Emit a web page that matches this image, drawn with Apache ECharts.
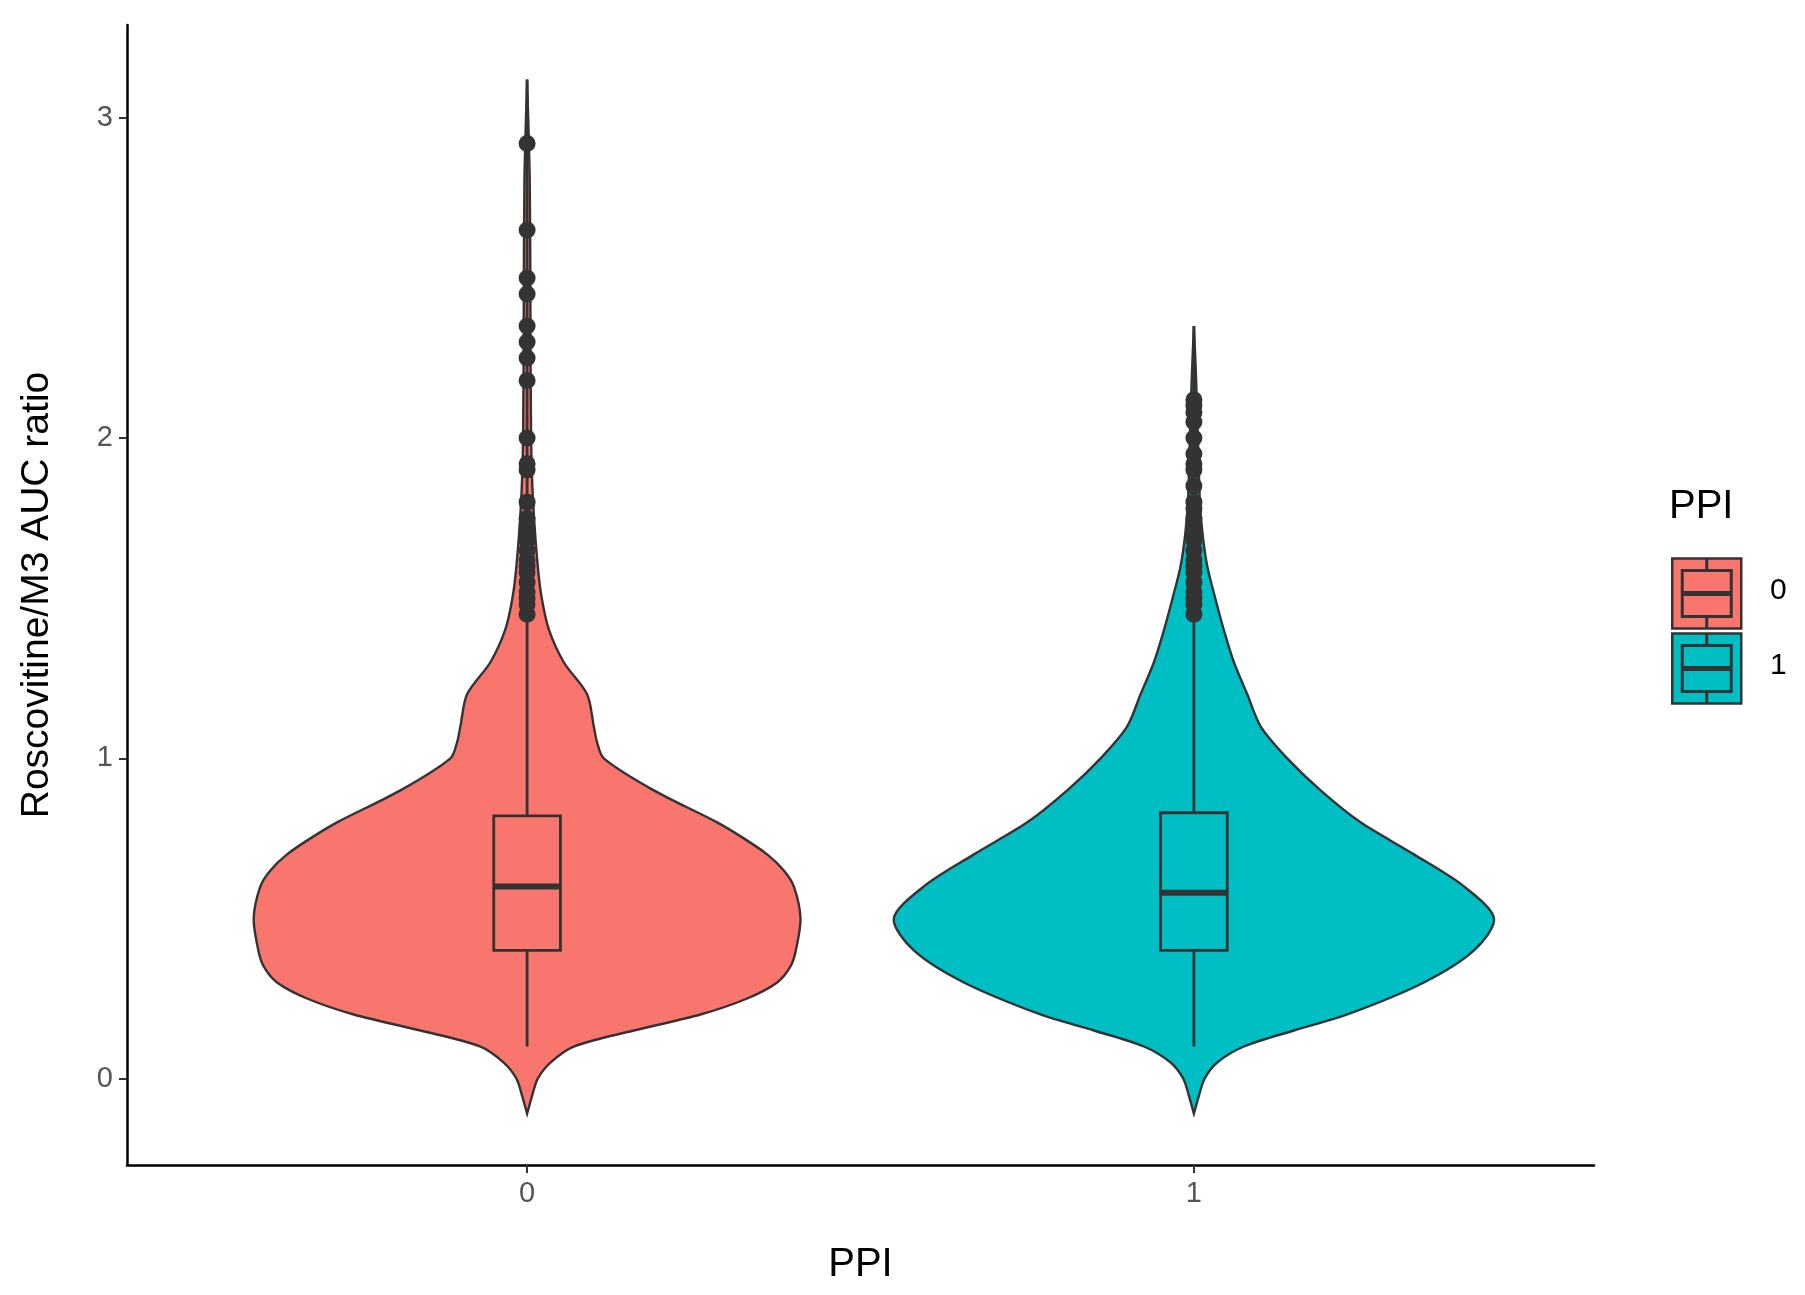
<!DOCTYPE html>
<html><head><meta charset="utf-8">
<script src="https://cdn.jsdelivr.net/npm/echarts@6/dist/echarts.min.js"></script>
<style>html,body{margin:0;background:#fff}#c{width:1805px;height:1295px}</style>
</head><body><div id="c"></div>
<script>
// violin profiles: y value, half-width in x-axis units
const violinY0 = [-0.11,-0.05,0,0.05,0.1,0.15,0.2,0.25,0.3,0.35,0.4,0.5,0.6,0.65,0.7,0.75,0.8,0.9,1.0,1.05,1.1,1.2,1.3,1.4,1.5,1.6,1.8,2.0,2.4,2.8,3.12];
const violinW0 = [0,0.008,0.016,0.035,0.07,0.16,0.26,0.33,0.375,0.395,0.403,0.41,0.4,0.385,0.36,0.325,0.285,0.19,0.115,0.105,0.1,0.09,0.055,0.033,0.022,0.016,0.009,0.006,0.005,0.004,0];
const violinY1 = [-0.11,-0.05,0,0.05,0.1,0.15,0.2,0.3,0.4,0.5,0.6,0.7,0.8,0.9,1.0,1.1,1.2,1.3,1.4,1.5,1.6,1.7,1.8,2.0,2.2,2.35];
const violinW1 = [0,0.008,0.016,0.035,0.075,0.15,0.23,0.345,0.42,0.45,0.405,0.33,0.25,0.19,0.14,0.1,0.08,0.06,0.045,0.032,0.02,0.013,0.009,0.006,0.003,0];
// box stats: [whiskerLow, q1, median, q3, whiskerHigh]
const box0 = [0.1,0.4,0.6,0.82,1.43];
const box1 = [0.1,0.4,0.58,0.83,1.45];
const outliers0 = [1.45,1.48,1.5,1.52,1.55,1.58,1.6,1.62,1.65,1.68,1.7,1.72,1.75,1.8,1.9,1.92,2.0,2.18,2.25,2.3,2.35,2.45,2.5,2.65,2.92];
const outliers1 = [1.45,1.48,1.5,1.52,1.55,1.58,1.6,1.62,1.65,1.68,1.7,1.72,1.75,1.78,1.8,1.85,1.9,1.92,1.95,2.0,2.05,2.08,2.1,2.12];
const groups = ['0','1'];
const colors = ['#F8766D','#00BFC4'];
const INK = '#333333';

const violins = [[violinY0,violinW0],[violinY1,violinW1]];
const boxes = [box0, box1];

function violinItem(params, api) {
  const g = params.dataIndex;
  const [ys, ws] = violins[g];
  const right = ys.map((y,i)=>api.coord([g+ws[i], y]));
  const left = ys.map((y,i)=>api.coord([g-ws[i], y])).reverse();
  return {type:'polygon', shape:{points:right.concat(left), smooth:0.3},
    style:{fill:colors[g], stroke:INK, lineWidth:2.4}};
}
function boxItem(params, api) {
  const g = params.dataIndex, b = boxes[g], hw = 0.05;
  const c = (x,y)=>api.coord([x,y]);
  const ls = {stroke:INK, lineWidth:2.8};
  const tl = c(g-hw,b[3]), br = c(g+hw,b[1]);
  return {type:'group', children:[
    {type:'line', shape:{x1:c(g,b[0])[0],y1:c(g,b[0])[1],x2:c(g,b[1])[0],y2:c(g,b[1])[1]}, style:ls},
    {type:'line', shape:{x1:c(g,b[3])[0],y1:c(g,b[3])[1],x2:c(g,b[4])[0],y2:c(g,b[4])[1]}, style:ls},
    {type:'rect', shape:{x:tl[0],y:tl[1],width:br[0]-tl[0],height:br[1]-tl[1]}, style:{fill:'none',stroke:INK,lineWidth:2.8}},
    {type:'line', shape:{x1:c(g-hw,b[2])[0],y1:c(g-hw,b[2])[1],x2:c(g+hw,b[2])[0],y2:c(g+hw,b[2])[1]}, style:{stroke:INK,lineWidth:6}}
  ]};
}

const pts = outliers0.map(v=>[0,v]).concat(outliers1.map(v=>[1,v]));
const axisLbl = {color:'#555', fontSize:29, fontFamily:'Liberation Sans'};

function legendKey(y, col){
  return {type:'group', left:1671, top:y, children:[
    {type:'rect', shape:{x:0,y:0,width:69,height:70}, style:{fill:colors[col],stroke:INK,lineWidth:2.5}},
    {type:'rect', shape:{x:10,y:12,width:49,height:46}, style:{fill:'none',stroke:INK,lineWidth:3}},
    {type:'line', shape:{x1:34.5,y1:0,x2:34.5,y2:12}, style:{stroke:INK,lineWidth:3}},
    {type:'line', shape:{x1:34.5,y1:58,x2:34.5,y2:70}, style:{stroke:INK,lineWidth:3}},
    {type:'line', shape:{x1:10,y1:35,x2:59,y2:35}, style:{stroke:INK,lineWidth:5}}
  ]};
}

const chart = echarts.init(document.getElementById('c'));
chart.setOption({
  animation:false,
  grid:{left:127,right:211,top:25,bottom:130},
  xAxis:{type:'value',min:-0.6,max:1.6,
    axisLine:{onZero:false,lineStyle:{color:'#000',width:2.5}},
    axisTick:{show:true,customValues:[0,1],lineStyle:{color:'#333',width:2},length:8},
    splitLine:{show:false},
    axisLabel:Object.assign({customValues:[0,1],formatter:v=>groups[v], margin:14},axisLbl),
    name:'PPI',nameLocation:'middle',nameGap:80,
    nameTextStyle:{fontSize:40,color:'#000',fontFamily:'Liberation Sans'}},
  yAxis:{type:'value',min:-0.27,max:3.29,
    axisLine:{show:true,onZero:false,lineStyle:{color:'#000',width:2.5}},
    axisTick:{show:true,customValues:[0,1,2,3],lineStyle:{color:'#333',width:2},length:8},
    axisLabel:Object.assign({customValues:[0,1,2,3],margin:14},axisLbl),
    splitLine:{show:false},
    name:'Roscovitine/M3 AUC ratio',nameLocation:'middle',nameGap:70,
    nameTextStyle:{fontSize:39,color:'#000',fontFamily:'Liberation Sans'}},
  series:[
    {type:'custom',renderItem:violinItem,data:[[0],[1]],z:1},
    {type:'custom',renderItem:boxItem,data:[[0],[1]],z:2},
    {type:'line',data:[[0,box0[4]],[0,3.12]],symbol:'none',lineStyle:{color:INK,width:2.8},z:2},
    {type:'line',data:[[1,box1[4]],[1,2.35]],symbol:'none',lineStyle:{color:INK,width:2.8},z:2},
    {type:'scatter',data:pts,symbolSize:17,itemStyle:{color:INK,opacity:1},z:3}
  ],
  graphic:[
    {type:'text',left:1669,top:487,style:{text:'PPI',fontSize:40,fill:'#000',fontFamily:'Liberation Sans'}},
    legendKey(556,0), legendKey(631,1),
    {type:'text',left:1770,top:576,style:{text:'0',fontSize:30,fill:'#000',fontFamily:'Liberation Sans'}},
    {type:'text',left:1770,top:651,style:{text:'1',fontSize:30,fill:'#000',fontFamily:'Liberation Sans'}}
  ]
});
</script></body></html>
